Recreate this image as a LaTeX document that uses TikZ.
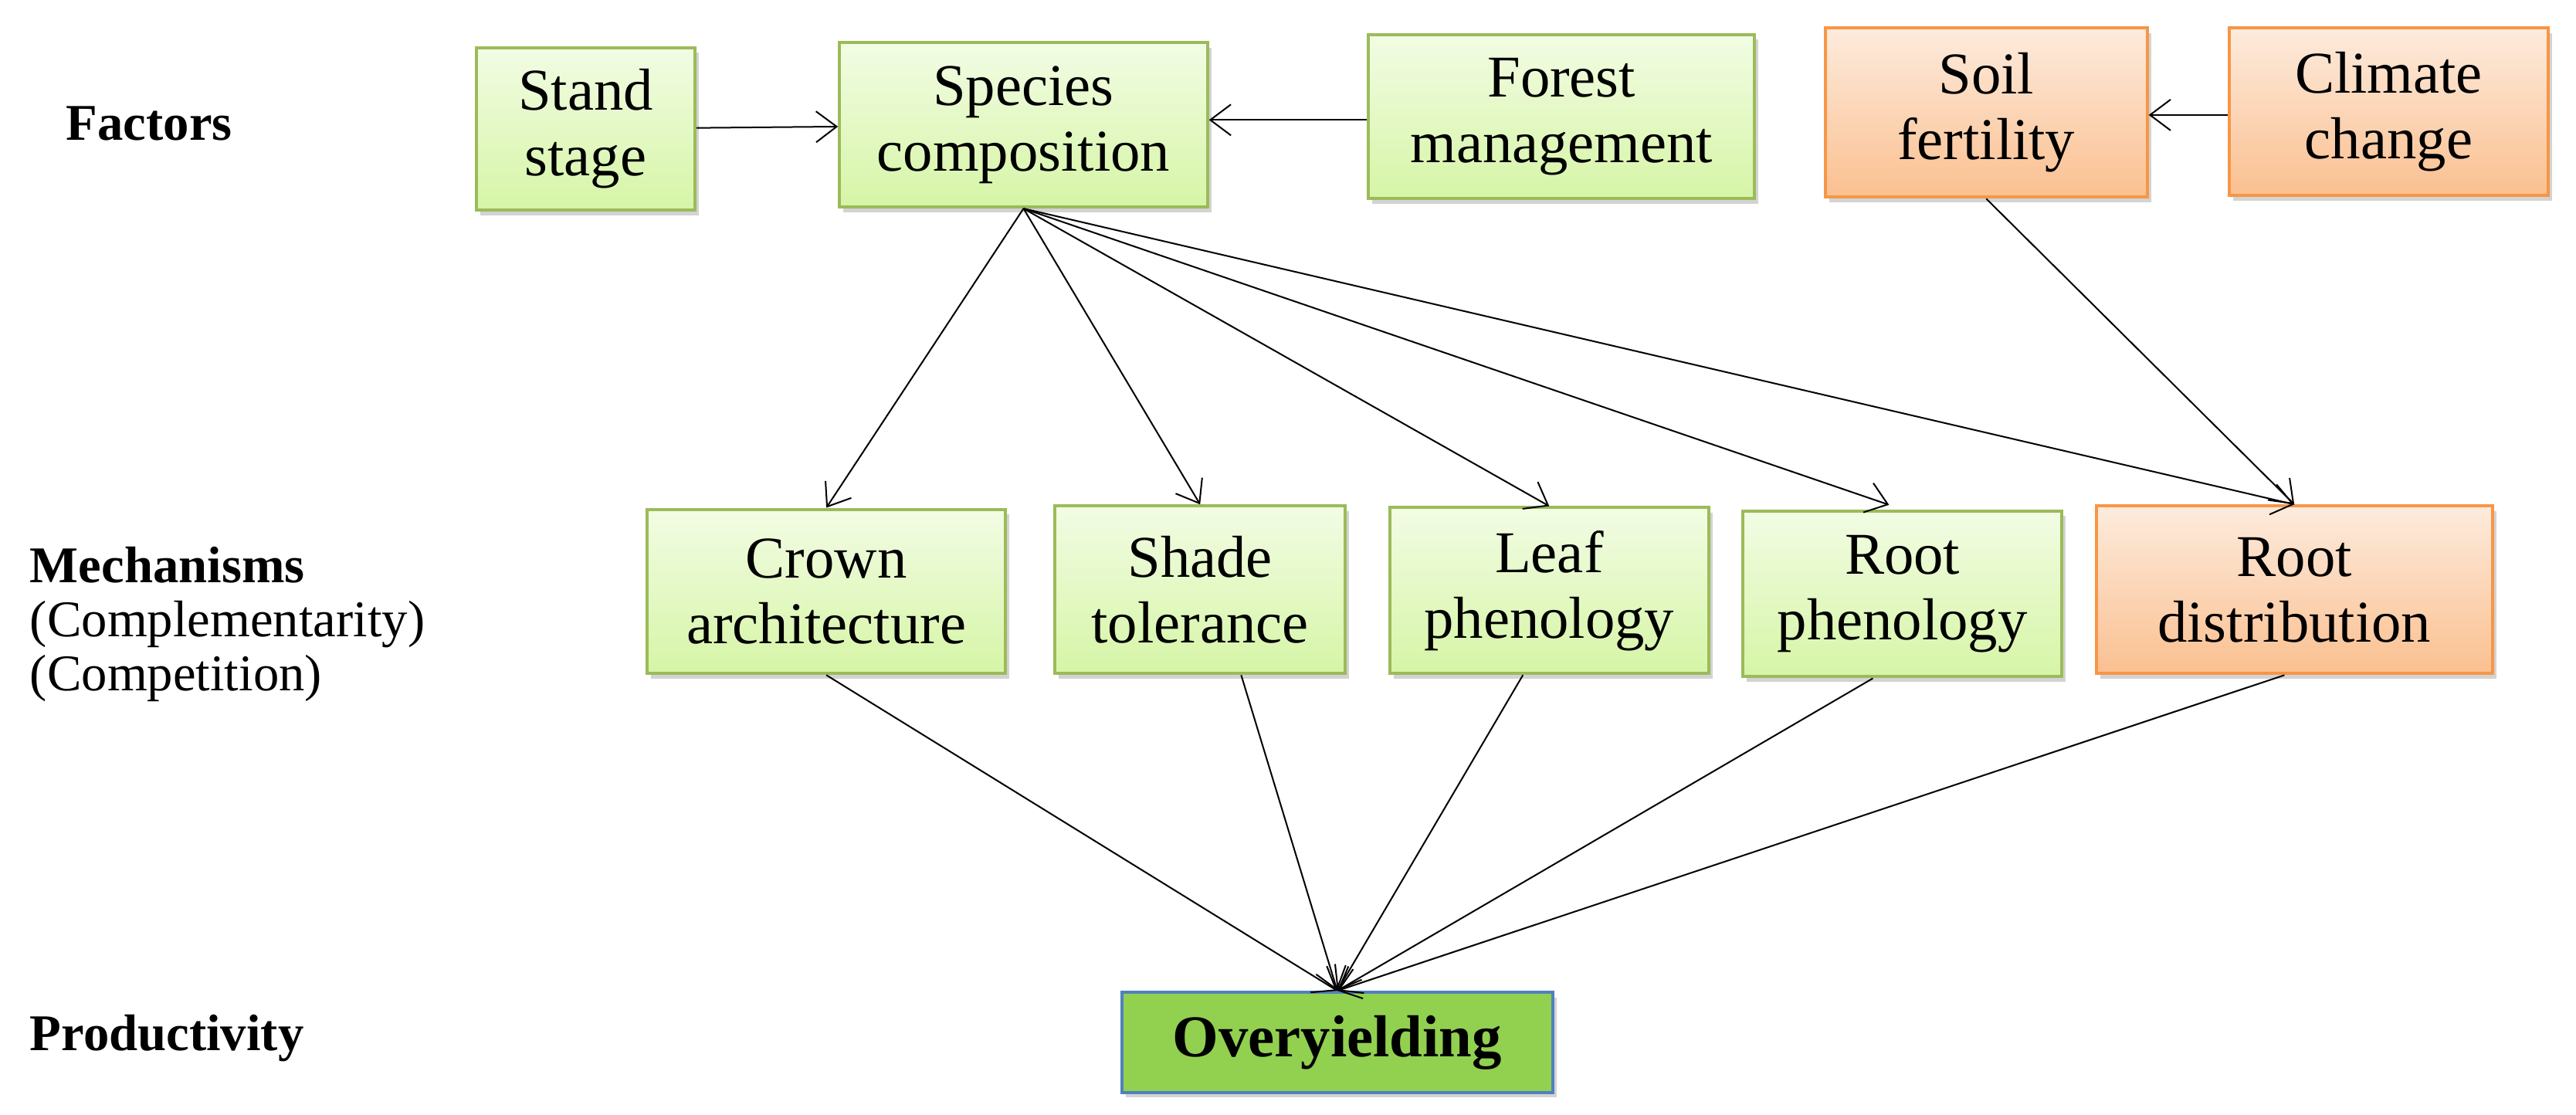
\documentclass[tikz,border=0pt]{standalone}
\usepackage{fontspec}
\setmainfont{Liberation Serif}
\usetikzlibrary{arrows.meta,shadows,calc}
\definecolor{gtop}{HTML}{F2FCE4}\definecolor{gbot}{HTML}{D6F5A6}\definecolor{gbord}{HTML}{9BBB59}
\definecolor{otop}{HTML}{FDEBDD}\definecolor{obot}{HTML}{FAC090}\definecolor{obord}{HTML}{F79646}
\definecolor{ovfill}{HTML}{92D050}\definecolor{ovbord}{HTML}{4F81BD}
\tikzset{
 base/.style={align=center,inner sep=0pt,line width=1.2pt,font=\fontsize{23}{25.5}\selectfont,
   drop shadow={shadow xshift=1.5pt,shadow yshift=-2pt,opacity=0.35}},
 gbox/.style={base,draw=gbord,top color=gtop,bottom color=gbot},
 obox/.style={base,draw=obord,top color=otop,bottom color=obot},
 ovbox/.style={base,draw=ovbord,fill=ovfill,font=\fontsize{23}{25.5}\selectfont\bfseries},
 lab/.style={anchor=west,align=left,inner sep=0pt,font=\fontsize{20}{21}\selectfont},
 arr/.style={-{Straight Barb[length=8pt,width=12pt]},line width=0.6pt}
}
\begin{document}
\begin{tikzpicture}[x=0.638pt,y=0.638pt]
\useasboundingbox (0,0) rectangle (1568,-678.6);
\node[gbox,minimum width=84.9pt,minimum height=63.2pt] (st) at (356.5,-78.5) {Stand\\stage};
\node[gbox,minimum width=142.9pt,minimum height=63.8pt] (sp) at (623,-76) {Species\\composition};
\node[gbox,minimum width=149.9pt,minimum height=63.8pt] (fm) at (950.5,-71) {Forest\\management};
\node[obox,minimum width=125pt,minimum height=65.7pt] (sf) at (1209,-68.5) {Soil\\fertility};
\node[obox,minimum width=123.8pt,minimum height=65.1pt] (cc) at (1454,-68) {Climate\\change};
\node[gbox,minimum width=139.1pt,minimum height=63.8pt] (ca) at (503,-360) {Crown\\architecture};
\node[gbox,minimum width=112.9pt,minimum height=65.1pt] (sh) at (730.5,-359) {Shade\\tolerance};
\node[gbox,minimum width=123.8pt,minimum height=64.4pt] (lp) at (943,-359.5) {Leaf\\phenology};
\node[gbox,minimum width=123.8pt,minimum height=64.4pt] (rp) at (1158,-361.5) {Root\\phenology};
\node[obox,minimum width=153.8pt,minimum height=65.1pt] (rd) at (1396.5,-359) {Root\\distribution};
\node[ovbox,minimum width=167.2pt,minimum height=38.9pt] (ov) at (814,-634.5) {Overyielding};
\node[lab,font=\fontsize{20}{21}\selectfont\bfseries] (lf) at (40,-75) {Factors};
\node[lab] (lm) at (18,-380) {\textbf{Mechanisms}\\(Complementarity)\\(Competition)};
\node[lab,font=\fontsize{20}{21}\selectfont\bfseries] (lpr) at (18,-632) {Productivity};
\draw[arr] (st) -- (sp);
\draw[arr] (fm.west|-0,-73) -- (sp.east|-0,-73);
\draw[arr] (cc.west|-0,-70) -- (sf.east|-0,-70);
\draw[arr] (sp.south) -- (ca.north);
\draw[arr] (sp.south) -- (sh.north);
\draw[arr] (sp.south) -- (lp.north);
\draw[arr,shorten >=5.5pt] (sp.south) -- (rp.north);
\draw[arr] (sp.south) -- (rd.north);
\draw[arr] (sf.south) -- (rd.north);
\draw[arr] (ca.south) -- (ov.north);
\draw[arr] ($(sh.south)+(25,0)$) -- (ov.north);
\draw[arr] ($(lp.south)+(-16,0)$) -- (ov.north);
\draw[arr] ($(rp.south)+(-18,0)$) -- (ov.north);
\draw[arr] ($(rd.south)+(-6,0)$) -- (ov.north);
\end{tikzpicture}
\end{document}
